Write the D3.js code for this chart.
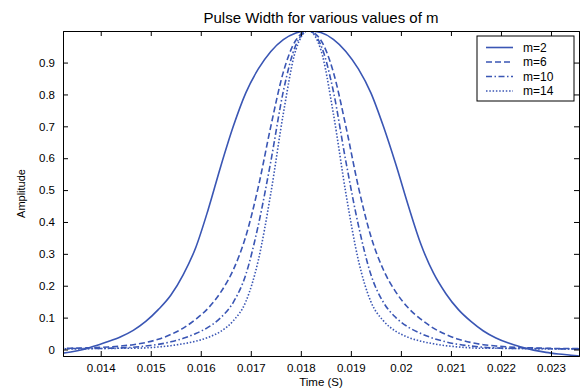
<!DOCTYPE html>
<html>
<head>
<meta charset="utf-8">
<script src="https://cdn.jsdelivr.net/npm/d3@7"></script>
<style>
  body { margin: 0; background: #fff; }
  text { font-family: "Liberation Sans", Arial, sans-serif; fill: #000; }
</style>
</head>
<body>
<div id="chart"></div>
<script>
// time samples (s), 0.25 ms apart
const time = [
  0.01315, 0.0134, 0.01365, 0.0139, 0.01415, 0.0144, 0.01465, 0.0149, 0.01515, 0.0154,
  0.01565, 0.0159, 0.01615, 0.0164, 0.01665, 0.0169, 0.01715, 0.0174, 0.01765, 0.0179,
  0.01815, 0.0184, 0.01865, 0.0189, 0.01915, 0.0194, 0.01965, 0.0199, 0.02015, 0.0204,
  0.02065, 0.0209, 0.02115, 0.0214, 0.02165, 0.0219, 0.02215, 0.0224, 0.02265, 0.0229,
  0.02315, 0.0234, 0.02365
];

const m2 = [
  -0.013, -0.008, 0.0, 0.012, 0.025, 0.04, 0.06, 0.088, 0.125, 0.17,
  0.235, 0.32, 0.44, 0.575, 0.70, 0.805, 0.88, 0.935, 0.972, 0.993,
  1.0, 0.994, 0.973, 0.935, 0.88, 0.805, 0.70, 0.58, 0.45, 0.33,
  0.24, 0.175, 0.125, 0.088, 0.058, 0.036, 0.02, 0.008, -0.002, -0.009,
  -0.014, -0.018, -0.022
];

const m6 = [
  0.003, 0.004, 0.005, 0.006, 0.008, 0.011, 0.015, 0.022, 0.032, 0.047,
  0.067, 0.095, 0.13, 0.18, 0.25, 0.355, 0.51, 0.70, 0.87, 0.97,
  1.0, 0.97, 0.87, 0.70, 0.51, 0.355, 0.25, 0.18, 0.13, 0.095,
  0.067, 0.047, 0.032, 0.022, 0.015, 0.011, 0.008, 0.006, 0.005, 0.004,
  0.003, 0.003, 0.002
];

const m10 = [
  0.002, 0.003, 0.003, 0.003, 0.004, 0.005, 0.007, 0.011, 0.016, 0.024,
  0.035, 0.05, 0.07, 0.10, 0.148, 0.235, 0.39, 0.59, 0.81, 0.955,
  1.0, 0.955, 0.81, 0.59, 0.39, 0.235, 0.148, 0.10, 0.07, 0.05,
  0.035, 0.024, 0.016, 0.011, 0.007, 0.005, 0.004, 0.003, 0.003, 0.003,
  0.002, 0.002, 0.002
];

const m14 = [
  0.002, 0.002, 0.002, 0.003, 0.003, 0.004, 0.004, 0.005, 0.008, 0.012,
  0.018, 0.026, 0.038, 0.057, 0.09, 0.15, 0.28, 0.49, 0.74, 0.94,
  1.0, 0.94, 0.74, 0.49, 0.28, 0.15, 0.09, 0.057, 0.038, 0.026,
  0.018, 0.012, 0.008, 0.005, 0.004, 0.004, 0.003, 0.003, 0.002, 0.002,
  0.002, 0.002, 0.002
];

const seriesNames = ["m=2", "m=6", "m=10", "m=14"];
const xTicks = [0.014, 0.015, 0.016, 0.017, 0.018, 0.019, 0.02, 0.021, 0.022, 0.023];
const yTicks = [0, 0.1, 0.2, 0.3, 0.4, 0.5, 0.6, 0.7, 0.8, 0.9];

const w = 582, h = 389;
const margin = {top: 31, right: 3, bottom: 33, left: 63};
const blue = "#3a56b4";
const dashes = [null, "6,3", "6,2.5,1.5,2.5", "1.5,1.8"];

const svg = d3.select("#chart").append("svg")
  .attr("width", w)
  .attr("height", h);

const xScale = d3.scaleLinear()
  .domain([0.013246, 0.02356])
  .range([margin.left, w - margin.right]);

const yScale = d3.scaleLinear()
  .domain([-0.0204, 0.999])
  .range([h - margin.bottom, margin.top]);

svg.append("clipPath").attr("id", "clip")
  .append("rect")
  .attr("x", margin.left)
  .attr("y", margin.top)
  .attr("width", w - margin.left - margin.right)
  .attr("height", h - margin.top - margin.bottom);

const line = d3.line()
  .x(d => xScale(d[0]))
  .y(d => yScale(d[1]))
  .curve(d3.curveMonotoneX);

const allSeries = [m2, m6, m10, m14];

svg.append("g")
  .attr("clip-path", "url(#clip)")
  .selectAll("path")
  .data(allSeries)
  .enter()
  .append("path")
  .attr("d", s => line(time.map((t, i) => [t, s[i]])))
  .attr("fill", "none")
  .attr("stroke", blue)
  .attr("stroke-width", 1.6)
  .attr("stroke-dasharray", (s, i) => dashes[i]);

// axes, ticks pointing inward like matlab
const fmt = v => String(+v.toFixed(3));

const axisB = d3.axisBottom(xScale).tickValues(xTicks).tickFormat(fmt).tickSize(-5).tickPadding(8);
const axisT = d3.axisTop(xScale).tickValues(xTicks).tickFormat("").tickSize(-5);
const axisL = d3.axisLeft(yScale).tickValues(yTicks).tickFormat(fmt).tickSize(-5).tickPadding(8);
const axisR = d3.axisRight(yScale).tickValues(yTicks).tickFormat("").tickSize(-5);

svg.append("g")
  .attr("transform", `translate(0,${h - margin.bottom})`)
  .call(axisB);
svg.append("g")
  .attr("transform", `translate(0,${margin.top})`)
  .call(axisT);
svg.append("g")
  .attr("transform", `translate(${margin.left},0)`)
  .call(axisL);
svg.append("g")
  .attr("transform", `translate(${w - margin.right},0)`)
  .call(axisR);

svg.selectAll(".tick text")
  .style("font-size", "11.5px");
svg.selectAll(".domain, .tick line")
  .attr("stroke", "#000");

svg.append("text")
  .attr("x", (margin.left + w - margin.right) / 2)
  .attr("y", 23)
  .attr("text-anchor", "middle")
  .style("font-size", "15px")
  .text("Pulse Width for various values of m");

svg.append("text")
  .attr("x", (margin.left + w - margin.right) / 2)
  .attr("y", 386)
  .attr("text-anchor", "middle")
  .style("font-size", "11.5px")
  .text("Time (S)");

svg.append("text")
  .attr("transform", `translate(25,${(margin.top + h - margin.bottom) / 2}) rotate(-90)`)
  .attr("text-anchor", "middle")
  .style("font-size", "11px")
  .text("Amplitude");

// legend
const legend = svg.append("g").attr("transform", "translate(477,36)");
legend.append("rect")
  .attr("width", 97)
  .attr("height", 65)
  .attr("fill", "#fff")
  .attr("stroke", "#000");

const items = legend.selectAll("g.item")
  .data(seriesNames)
  .enter()
  .append("g")
  .attr("class", "item")
  .attr("transform", (d, i) => `translate(0,${11.5 + i * 14.5})`);

items.append("line")
  .attr("x1", 9).attr("x2", 36)
  .attr("stroke", blue)
  .attr("stroke-width", 1.6)
  .attr("stroke-dasharray", (d, i) => dashes[i]);

items.append("text")
  .attr("x", 46)
  .attr("dy", "0.35em")
  .style("font-size", "12px")
  .text(d => d);
</script>
</body>
</html>
